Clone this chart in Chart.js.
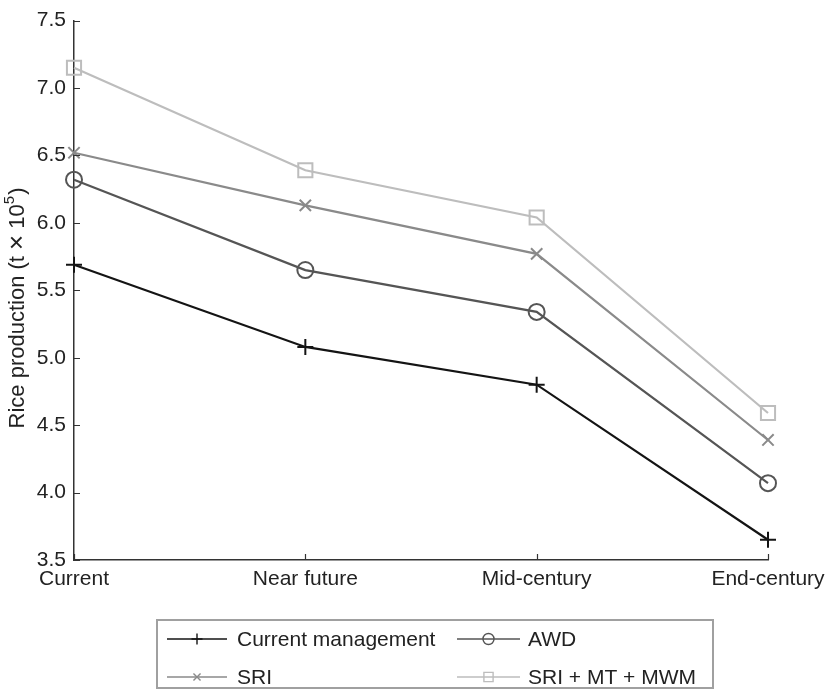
<!DOCTYPE html>
<html><head><meta charset="utf-8">
<script src="https://cdn.jsdelivr.net/npm/chart.js@4"></script>
<style>html,body{margin:0;padding:0;background:#fff}#wrap{width:828px;height:690px}</style>
</head><body><div id="wrap"><canvas id="c" width="828" height="690"></canvas></div>
<script>
const categories = ['Current', 'Near future', 'Mid-century', 'End-century'];
const currentManagement = [5.69, 5.08, 4.80, 3.65];
const awd = [6.32, 5.65, 5.34, 4.07];
const sri = [6.52, 6.13, 5.77, 4.39];
const sriMtMwm = [7.15, 6.39, 6.04, 4.59];
const seriesLabels = ['Current management', 'AWD', 'SRI', 'SRI + MT + MWM'];
const yMin = 3.5, yMax = 7.5, yStep = 0.5;
const yTitleMain = 'Rice production (t \u00d7 10', yTitleSup = '5', yTitleEnd = ')';

const FONT = '"Liberation Sans", Arial, Helvetica, sans-serif';
const TXT = '#222';
const colors = ['#141414', '#555555', '#8a8a8a', '#bdbdbd'];
const styles = ['cross', 'circle', 'crossRot', 'rect'];
const radii = [8, 8, 8, 10];
const legendRadii = [5.5, 5.5, 5, 6.5];

function drawMarker(ctx, style, x, y, r, color, lw) {
  ctx.save();
  ctx.strokeStyle = color; ctx.lineWidth = lw;
  ctx.beginPath();
  if (style === 'cross') {
    ctx.moveTo(x - r, y); ctx.lineTo(x + r, y);
    ctx.moveTo(x, y - r); ctx.lineTo(x, y + r);
  } else if (style === 'crossRot') {
    const d = r * Math.SQRT1_2;
    ctx.moveTo(x - d, y - d); ctx.lineTo(x + d, y + d);
    ctx.moveTo(x - d, y + d); ctx.lineTo(x + d, y - d);
  } else if (style === 'circle') {
    ctx.arc(x, y, r, 0, Math.PI * 2);
  } else if (style === 'rect') {
    const s = r * Math.SQRT1_2;
    ctx.rect(x - s, y - s, 2 * s, 2 * s);
  }
  ctx.stroke();
  ctx.restore();
}

const seriesData = [currentManagement, awd, sri, sriMtMwm];
const datasets = seriesData.map((d, i) => ({
  label: seriesLabels[i],
  data: d,
  borderColor: colors[i],
  backgroundColor: colors[i],
  borderWidth: 2.2,
  tension: 0,
  fill: false,
  pointStyle: styles[i],
  pointRadius: radii[i],
  pointHoverRadius: radii[i],
  pointBorderWidth: 2,
  pointBorderColor: colors[i],
  pointBackgroundColor: 'rgba(0,0,0,0)',
  clip: false
}));

const decor = {
  id: 'decor',
  afterDraw(chart) {
    const ctx = chart.ctx;
    const xs = chart.scales.x, ys = chart.scales.y;
    const ca = chart.chartArea;
    ctx.save();
    // inward ticks
    ctx.strokeStyle = '#333'; ctx.lineWidth = 1.2;
    ctx.beginPath();
    ys.ticks.forEach(t => {
      const y = Math.round(ys.getPixelForValue(t.value)) + 0.5;
      ctx.moveTo(ca.left, y); ctx.lineTo(ca.left + 6, y);
    });
    categories.forEach((c, i) => {
      const x = Math.round(xs.getPixelForValue(i)) + 0.5;
      ctx.moveTo(x, ca.bottom); ctx.lineTo(x, ca.bottom - 6);
    });
    ctx.stroke();

    // y title with superscript
    ctx.fillStyle = TXT;
    ctx.textBaseline = 'middle';
    ctx.textAlign = 'left';
    const mainFont = '22px ' + FONT, supFont = '15px ' + FONT, symFont = '26px ' + FONT;
    const partA = 'Rice production (t ', partX = '\u00d7', partB = ' 10';
    ctx.font = mainFont;
    const wA = ctx.measureText(partA).width, wB = ctx.measureText(partB).width, w3 = ctx.measureText(yTitleEnd).width;
    ctx.font = symFont; const wX = ctx.measureText(partX).width;
    ctx.font = supFont; const w2 = ctx.measureText(yTitleSup).width + 1;
    const total = wA + wX + wB + w2 + w3;
    ctx.translate(18, 308);
    ctx.rotate(-Math.PI / 2);
    let px = -total / 2;
    ctx.font = mainFont; ctx.fillText(partA, px, 0); px += wA;
    ctx.font = symFont; ctx.fillText(partX, px, 0); px += wX;
    ctx.font = mainFont; ctx.fillText(partB, px, 0); px += wB;
    ctx.font = supFont; ctx.fillText(yTitleSup, px, -8); px += w2;
    ctx.font = mainFont; ctx.fillText(yTitleEnd, px, 0);
    ctx.setTransform(1, 0, 0, 1, 0, 0);

    // legend
    const bx = 157, by = 620, bw = 556, bh = 68;
    ctx.strokeStyle = '#a0a0a0'; ctx.lineWidth = 2;
    ctx.strokeRect(bx, by, bw, bh);
    const rowsY = [639, 677];
    const cols = [{l: 167, r: 227, t: 237}, {l: 457, r: 520, t: 528}];
    chart.data.datasets.forEach((ds, i) => {
      const col = cols[i % 2], y = rowsY[Math.floor(i / 2)];
      ctx.strokeStyle = ds.borderColor; ctx.lineWidth = 1.6;
      ctx.beginPath(); ctx.moveTo(col.l, y); ctx.lineTo(col.r, y); ctx.stroke();
      drawMarker(ctx, ds.pointStyle, (col.l + col.r) / 2, y, legendRadii[i], ds.borderColor, 1.4);
      ctx.fillStyle = TXT; ctx.font = '21px ' + FONT;
      ctx.textAlign = 'left'; ctx.textBaseline = 'middle';
      ctx.fillText(ds.label, col.t, y + 1);
    });
    ctx.restore();
  }
};

new Chart(document.getElementById('c'), {
  type: 'line',
  data: { labels: categories, datasets },
  options: {
    responsive: false,
    animation: false,
    devicePixelRatio: 1,
    layout: { padding: { top: 16, right: 60, left: 0, bottom: 0 } },
    plugins: { legend: { display: false }, tooltip: { enabled: false } },
    scales: {
      x: {
        type: 'category',
        offset: false,
        grid: { display: false, drawTicks: false },
        border: { display: true, color: '#333', width: 1.5 },
        ticks: { color: TXT, font: { family: FONT, size: 21 }, padding: 7, maxRotation: 0, autoSkip: false },
        afterFit(s) { s.height = 130; s.paddingLeft = 0; s.paddingRight = 0; }
      },
      y: {
        min: yMin, max: yMax,
        grid: { display: false, drawTicks: false },
        border: { display: true, color: '#333', width: 1.5 },
        ticks: { stepSize: yStep, color: TXT, font: { family: FONT, size: 21 }, padding: 8,
                 callback: v => Number(v).toFixed(1) },
        afterFit(s) { s.width = 74; }
      }
    }
  },
  plugins: [decor]
});
</script>
</body></html>
